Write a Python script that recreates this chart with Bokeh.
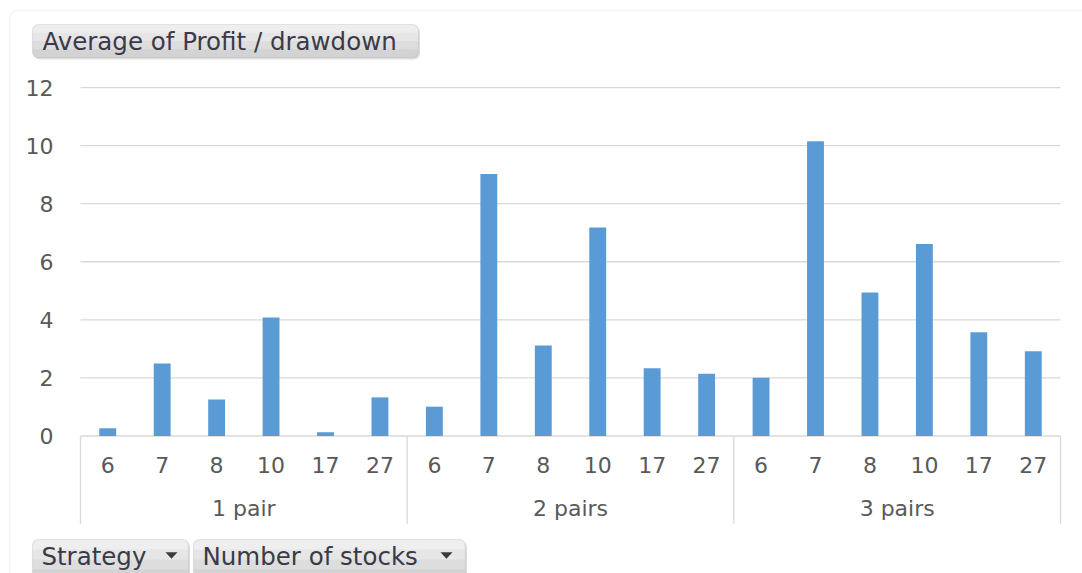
from bokeh.plotting import figure
from bokeh.models import BoxAnnotation, Range1d
from bokeh.core.properties import value
from bokeh.embed import file_html
from bokeh.resources import INLINE

# ---- data ----
strategies = ["1 pair", "2 pairs", "3 pairs"]
stocks = ["6", "7", "8", "10", "17", "27"]
pair1 = [0.27, 2.50, 1.26, 4.08, 0.13, 1.33]
pair2 = [1.01, 9.02, 3.12, 7.18, 2.33, 2.14]
pair3 = [2.01, 10.15, 4.94, 6.61, 3.57, 2.92]
y_ticks = [0, 2, 4, 6, 8, 10, 12]
y_title = "Average of Profit / drawdown"
filters = ["Strategy", "Number of stocks"]

series = [pair1, pair2, pair3]
n = len(stocks)
xs, tops, xlab = [], [], []
for g, vals in enumerate(series):
    for i, v in enumerate(vals):
        xs.append(g * n + i + 0.5)
        tops.append(v)
        xlab.append(stocks[i])
N = len(xs)

FONT = value("DejaVu Sans")
GRAY = "#595959"
LINE = "#d9d9d9"
PX_X = 54.444   # pixels per x unit
PX_Y = 29.04    # pixels per y unit

p = figure(width=1082, height=573, output_backend="svg", toolbar_location=None,
           x_axis_location=None, y_axis_location=None,
           min_border=0, min_border_left=0, min_border_right=0,
           min_border_top=0, min_border_bottom=0,
           x_range=Range1d(-1.4694, 18.404), y_range=Range1d(-4.735, 14.997))
p.outline_line_color = None
p.grid.visible = False
p.background_fill_color = "white"

# outer chart frame
p.add_layout(BoxAnnotation(left=-1.304, right=19.0, top=14.652, bottom=-6,
                           fill_color=None, line_color=LINE, line_width=1.5,
                           border_radius=8, level="underlay"))

# gridlines
gl = [t for t in y_ticks if t > 0]
p.segment(x0=[0] * len(gl), x1=[N] * len(gl), y0=gl, y1=gl, line_color=LINE, line_width=1.3)
# baseline
p.segment(x0=[0], x1=[N], y0=[0], y1=[0], line_color=LINE, line_width=1.3)
# group separators
seps = [g * n for g in range(len(strategies) + 1)]
p.segment(x0=seps, x1=seps, y0=[0] * len(seps), y1=[-3.02] * len(seps), line_color=LINE, line_width=1.3)

# bars
p.vbar(x=xs, width=0.31, top=tops, bottom=0, fill_color="#5B9BD5", line_color=None)

# y tick labels
p.text(x=[-0.496] * len(y_ticks), y=y_ticks, text=[str(t) for t in y_ticks],
       text_align="right", text_baseline="middle", text_font=FONT,
       text_font_size="22px", text_color=GRAY)
# x labels
p.text(x=xs, y=[-1.0] * N, text=xlab, text_align="center", text_baseline="middle",
       text_font=FONT, text_font_size="22px", text_color=GRAY)
p.text(x=[g * n + n / 2 for g in range(len(strategies))], y=[-2.50] * len(strategies),
       text=strategies, text_align="center", text_baseline="middle",
       text_font=FONT, text_font_size="22px", text_color=GRAY)


# pivot field buttons (vertical gradient from strips)
def button(l, r, t, h_px):
    shades = ["#eeeeee", "#e6e6e6", "#dddddd", "#d3d3d3"]
    k = len(shades)
    sh = h_px / k / PX_Y
    rad = 6
    # soft shadow
    p.add_layout(BoxAnnotation(left=l + 1.5 / PX_X, right=r + 1.5 / PX_X,
                               top=t - 2 / PX_Y, bottom=t - (h_px + 2) / PX_Y,
                               fill_color="#c8c8c8", fill_alpha=0.6, line_color=None,
                               border_radius=rad, level="underlay"))
    for j, c in enumerate(shades):
        br = (rad, rad, 0, 0) if j == 0 else ((0, 0, rad, rad) if j == k - 1 else 0)
        p.add_layout(BoxAnnotation(left=l, right=r, top=t - j * sh, bottom=t - (j + 1) * sh - 0.5 / PX_Y,
                                   fill_color=c, fill_alpha=1, line_color=None,
                                   border_radius=br, level="underlay"))
    p.add_layout(BoxAnnotation(left=l, right=r, top=t, bottom=t - h_px / PX_Y,
                               fill_color=None, line_color="#b4b4b4", line_width=1.2,
                               border_radius=rad, level="underlay"))


button(-0.8816, 6.208, 14.170, 33)
button(-0.8816, 1.9837, -3.564, 40)
button(2.0755, 7.0714, -3.564, 40)

p.text(x=[-0.700], y=[13.602], text=[y_title], text_align="left", text_baseline="middle",
       text_font=FONT, text_font_size="24.5px", text_color="#3a3a48")
p.text(x=[-0.718, 2.240], y=[-4.149, -4.149], text=filters, text_align="left",
       text_baseline="middle", text_font=FONT, text_font_size="24.5px", text_color="#3a3a48")
# dropdown triangles
tri_cx = [1.671, 6.722]
tri_cy = -4.115
hw = 6 / PX_X
hh = 3.2 / PX_Y
p.patches(xs=[[c - hw, c + hw, c] for c in tri_cx],
          ys=[[tri_cy + hh, tri_cy + hh, tri_cy - hh] for _ in tri_cx],
          fill_color="#3a3a3a", line_color=None)

html = file_html(p, INLINE)
html = html.replace("<head>", "<head><style>html,body{margin:0!important;padding:0!important;overflow:hidden;}</style>", 1)
open("out.html", "w").write(html)
